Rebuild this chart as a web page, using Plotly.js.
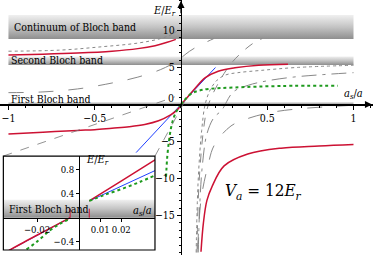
<!DOCTYPE html>
<html><head><meta charset="utf-8">
<script src="https://cdn.plot.ly/plotly-3.0.1.min.js"></script>
<style>html,body{margin:0;padding:0;background:#fff}#c{width:373px;height:255px}</style>
</head><body><div id="c"></div>
<script>
// ---- data (main panel, x = a_s/a, y = E/E_r) ----
const bandContinuum = [8.85, 12.1];
const bandSecond = [5.35, 6.5];
const bandFirst = [0, 0.35];
const bandX = [-1, 1];

const redUL_x = [-1, -0.8, -0.6, -0.4, -0.25, -0.15, -0.08, -0.03];
const redUL_y = [6.7, 6.8, 6.95, 7.2, 7.55, 7.95, 8.4, 8.8];
const redLL_x = [-1, -0.8, -0.6, -0.5, -0.4, -0.3, -0.21, -0.13, -0.06, -0.03, -0.01, 0];
const redLL_y = [-4.0, -3.75, -3.5, -3.4, -3.2, -3.0, -2.7, -2.2, -1.4, -0.9, -0.4, 0];
const redUR_x = [0, 0.04, 0.081, 0.139, 0.216, 0.313, 0.45, 0.62];
const redUR_y = [0, 1.05, 2.15, 3.6, 4.5, 4.95, 5.3, 5.45];
const redLR_x = [0.116, 0.13, 0.15, 0.18, 0.25, 0.387, 0.58, 0.8, 1.0];
const redLR_y = [-19.9, -16, -13, -11.1, -8.3, -6.7, -5.9, -5.6, -5.4];

const greenL_x = [0, -0.01, -0.03, -0.045, -0.058, -0.07, -0.08, -0.087];
const greenL_y = [0, -0.3, -1.1, -2.0, -3.2, -5.0, -7.2, -10];
const greenR_x = [0, 0.02, 0.062, 0.1, 0.158, 0.313, 0.58, 0.91];
const greenR_y = [0, 0.6, 1.49, 1.85, 2.1, 2.3, 2.5, 2.54];

const blue_x = [-0.26, 0.2];
const blue_y = [-6.5, 5.0];

const greyDotUL_x = [-1, -0.7, -0.46, -0.25, -0.12, -0.05, -0.01];
const greyDotUL_y = [7.2, 7.35, 7.8, 8.3, 8.9, 9.5, 10.2];
const greyLdU_x = [-1, -0.8, -0.6, -0.4, -0.25, -0.12, -0.05, 0, 0.05, 0.1, 0.19];
const greyLdU_y = [1.6, 1.7, 2.1, 2.9, 3.7, 4.7, 5.5, 6.3, 7.2, 7.9, 8.9];
const greyDotR_x = [0.088, 0.095, 0.105, 0.12, 0.14, 0.17, 0.21, 0.26, 0.33, 0.46, 0.67, 1.0];
const greyDotR_y = [-20, -13, -8, -3.5, 0, 2.0, 3.3, 4.0, 4.3, 4.6, 5.0, 5.3];
const greyDashR_x = [0.093, 0.1, 0.112, 0.13, 0.15, 0.18, 0.21, 0.25, 0.3, 0.36, 0.42, 0.47];
const greyDashR_y = [-20, -13, -8, -3.5, -0.7, 1.2, 2.6, 4.2, 5.8, 7.2, 8.3, 8.9];
const greyDdR_x = [0.1, 0.11, 0.125, 0.15, 0.19, 0.236, 0.303, 0.39, 0.5, 0.65, 0.8, 1.0];
const greyDdR_y = [-20, -13, -8, -4, -1.8, -0.77, 1.7, 2.6, 3.2, 3.7, 4.0, 4.3];
const greyLdR_x = [0.097, 0.116, 0.155, 0.193, 0.29, 0.4, 0.54, 0.7, 0.85, 1.0];
const greyLdR_y = [-19.5, -12.9, -8.4, -5.5, -2.9, -1.8, -1.0, -0.55, -0.3, -0.1];

// ---- data (inset) ----
const insetBand = [0, 0.3];
const insetBandX = [-0.036, 0.036];
const iRedL_x = [-0.0335, -0.025, -0.015, -0.0043];
const iRedL_y = [-0.55, -0.385, -0.2, 0];
const iBlueL_x = [-0.034, -0.0043];
const iBlueL_y = [-0.56, 0];
const iGreenL_x = [-0.025, -0.02, -0.0138, -0.009, -0.0051];
const iGreenL_y = [-0.53, -0.4, -0.21, -0.1, -0.03];
const iRedR_x = [0.0048, 0.0205, 0.0362];
const iRedR_y = [0.28, 0.625, 0.97];
const iBlueR_x = [0.0048, 0.0362];
const iBlueR_y = [0.28, 0.79];
const iGreenR_x = [0.0048, 0.012, 0.021, 0.029, 0.0362];
const iGreenR_y = [0.28, 0.38, 0.49, 0.6, 0.71];
const iJumpL_x = [-0.0043, -0.0043];
const iJumpL_y = [0, 0.3];
const iJumpR_x = [0.0048, 0.0048];
const iJumpR_y = [0, 0.28];

// ---- ticks ----
const xTicks = [-1, -0.5, 0.5, 1];
const yTicks = [-15, -10, -5, 5, 10];
const ixTicks = [-0.02, 0.01, 0.02];
const iyTicks = [-0.4, 0.4, 0.8];

const RED = '#cc1133', BLUE = '#2040ff', GREEN = '#1e9a1e', GREY = '#888';
const FONT = 'DejaVu Serif Condensed, DejaVu Serif';

function band(xs, lim, ax) {
  return {x: [xs[0], xs[1], xs[1], xs[0], xs[0]], y: [lim[0], lim[0], lim[1], lim[1], lim[0]],
    mode: 'lines', line: {width: 0}, fill: 'toself', xaxis: ax[0], yaxis: ax[1],
    fillgradient: {type: 'vertical', colorscale: [[0, '#8e8e8e'], [0.5, '#c4c4c4'], [1, '#f0f0f0']]},
    hoverinfo: 'skip', showlegend: false};
}
function ln(x, y, color, width, dash, ax, spline) {
  return {x, y, mode: 'lines', xaxis: ax ? ax[0] : 'x', yaxis: ax ? ax[1] : 'y',
    line: {color, width, dash: dash || 'solid', shape: spline === false ? 'linear' : 'spline', smoothing: 1},
    showlegend: false, hoverinfo: 'skip'};
}
const M = ['x', 'y'], I = ['x2', 'y2'];
const traces = [
  band(bandX, bandContinuum, M), band(bandX, bandSecond, M), band(bandX, bandFirst, M),
  ln(greyDotUL_x, greyDotUL_y, GREY, 1, 'dot', M),
  ln(greyLdU_x, greyLdU_y, GREY, 1, 'longdash', M),
  ln(greyDotR_x, greyDotR_y, GREY, 1, 'dot', M),
  ln(greyDashR_x, greyDashR_y, GREY, 1, 'dash', M),
  ln(greyDdR_x, greyDdR_y, GREY, 1, 'longdashdot', M),
  ln(greyLdR_x, greyLdR_y, GREY, 1, 'longdash', M),
  ln(blue_x, blue_y, BLUE, 1, 'solid', M, false),
  ln(redUL_x, redUL_y, RED, 1.5, 'solid', M),
  ln(redLL_x, redLL_y, RED, 1.5, 'solid', M),
  ln(redUR_x, redUR_y, RED, 1.5, 'solid', M),
  ln(redLR_x, redLR_y, RED, 1.5, 'solid', M),
  ln(greenL_x, greenL_y, GREEN, 2, 'dot', M),
  ln(greenR_x, greenR_y, GREEN, 2, 'dot', M),
  // inset
  band(insetBandX, insetBand, I),
  ln(iBlueL_x, iBlueL_y, BLUE, 1, 'solid', I, false),
  ln(iRedL_x, iRedL_y, RED, 1.5, 'solid', I),
  ln(iGreenL_x, iGreenL_y, GREEN, 2, 'dot', I),
  ln(iBlueR_x, iBlueR_y, BLUE, 1, 'solid', I, false),
  ln(iRedR_x, iRedR_y, RED, 1.5, 'solid', I),
  ln(iGreenR_x, iGreenR_y, GREEN, 2, 'dot', I),
  ln(iJumpL_x, iJumpL_y, RED, 1, 'dash', I, false),
  ln(iJumpR_x, iJumpR_y, RED, 1, 'dash', I, false)
];

const W = 373, H = 255;
const xr = [-1.049, 1.113], yr = [-20.34, 14.12];
const ixr = [-0.036, 0.036], iyr = [-0.54, 1.03];
const iDom = {x: [0.009, 0.4155], y: [0.0196, 0.388]};
const px = v => (v - xr[0]) / (xr[1] - xr[0]);
const py = v => (v - yr[0]) / (yr[1] - yr[0]);
const ipx = v => iDom.x[0] + (v - ixr[0]) / (ixr[1] - ixr[0]) * (iDom.x[1] - iDom.x[0]);
const ipy = v => iDom.y[0] + (v - iyr[0]) / (iyr[1] - iyr[0]) * (iDom.y[1] - iDom.y[0]);

const tf = s => ({family: FONT, size: s, color: '#000'});
const axBase = {showgrid: false, zeroline: false, showline: true, linecolor: '#000', linewidth: 1.2,
  ticks: 'outside', ticklen: 4, tickcolor: '#000', tickfont: tf(10.5), tickangle: 0};
const neg = v => v < 0 ? '\u2212' + Math.abs(v) : String(v);

const layout = {
  width: W, height: H, margin: {l: 0, r: 0, t: 0, b: 0},
  paper_bgcolor: '#fff', plot_bgcolor: '#fff', showlegend: false,
  font: tf(10.5),
  xaxis: Object.assign({}, axBase, {domain: [0, 1], range: xr, anchor: 'free', position: py(0),
    tickvals: xTicks, ticktext: xTicks.map(neg),
    minor: {dtick: 0.1, ticklen: 2, tickcolor: '#000', ticks: 'outside'}}),
  yaxis: Object.assign({}, axBase, {domain: [0, 1], range: yr, anchor: 'free', position: px(0),
    tickvals: yTicks, ticktext: yTicks.map(neg),
    minor: {dtick: 1, ticklen: 2, tickcolor: '#000', ticks: 'outside'}}),
  xaxis2: Object.assign({}, axBase, {domain: iDom.x, range: ixr, anchor: 'free', position: ipy(0),
    ticklen: 3, tickvals: ixTicks, ticktext: ixTicks.map(neg), tickfont: tf(9.5)}),
  yaxis2: Object.assign({}, axBase, {domain: iDom.y, range: iyr, anchor: 'free', position: ipx(0),
    ticklen: 3, tickvals: iyTicks, ticktext: iyTicks.map(neg), tickfont: tf(9.5)}),
  shapes: [
    {type: 'line', xref: 'paper', yref: 'paper', x0: iDom.x[0], y0: iDom.y[1], x1: px(ixr[0]), y1: py(iyr[1]),
      line: {color: '#777', width: 0.8, dash: 'dash'}},
    {type: 'line', xref: 'paper', yref: 'paper', x0: iDom.x[1], y0: iDom.y[1], x1: px(ixr[1]), y1: py(iyr[1]),
      line: {color: '#777', width: 0.8, dash: 'dash'}},
    {type: 'rect', xref: 'paper', yref: 'paper', x0: iDom.x[0], x1: iDom.x[1], y0: iDom.y[0], y1: iDom.y[1],
      line: {color: '#000', width: 1.2}, layer: 'above'}
  ],
  annotations: [
    {x: -0.98, y: 10.45, xref: 'x', yref: 'y', text: 'Continuum of Bloch band', showarrow: false, xanchor: 'left', font: tf(10.5)},
    {x: -0.995, y: 5.95, xref: 'x', yref: 'y', text: 'Second Bloch band', showarrow: false, xanchor: 'left', font: tf(10.5)},
    {x: -0.995, y: 0.75, xref: 'x', yref: 'y', text: 'First Bloch band', showarrow: false, xanchor: 'left', font: tf(10.5)},
    {x: -0.03, y: 0.85, xref: 'x', yref: 'y', text: '0', showarrow: false, xanchor: 'right', font: tf(10.5)},
    {x: -0.02, y: 12.6, xref: 'x', yref: 'y', text: '<i>E</i>/<i>E</i><sub><i>r</i></sub>', showarrow: false, xanchor: 'right', font: tf(11)},
    {x: 1.0, y: 1.45, xref: 'x', yref: 'y', text: '<i>a</i><sub><i>s</i></sub>/<i>a</i>', showarrow: false, xanchor: 'center', font: tf(11)},
    {x: 0.48, y: -11.8, xref: 'x', yref: 'y', text: '<i>V</i><sub><i>a</i></sub> = 12<i>E</i><sub><i>r</i></sub>', showarrow: false, font: tf(17)},
    // axis arrows
    {x: xr[1] - 0.005, y: 0, xref: 'x', yref: 'y', ax: -14, ay: 0, text: '', showarrow: true, arrowhead: 2, arrowsize: 1.2, arrowwidth: 1.2, arrowcolor: '#000'},
    {x: 0, y: yr[1] - 0.1, xref: 'x', yref: 'y', ax: 0, ay: 14, text: '', showarrow: true, arrowhead: 2, arrowsize: 1.2, arrowwidth: 1.2, arrowcolor: '#000'},
    // inset labels
    {x: -0.0345, y: 0.15, xref: 'x2', yref: 'y2', text: 'First Bloch band', showarrow: false, xanchor: 'left', font: tf(10.5)},
    {x: 0.0022, y: 0.97, xref: 'x2', yref: 'y2', text: '<i>E</i>/<i>E</i><sub><i>r</i></sub>', showarrow: false, xanchor: 'left', font: tf(11)},
    {x: 0.0355, y: 0.12, xref: 'x2', yref: 'y2', text: '<i>a</i><sub><i>s</i></sub>/<i>a</i>', showarrow: false, xanchor: 'right', font: tf(11)}
  ]
};
Plotly.newPlot('c', traces, layout, {staticPlot: true, displayModeBar: false});
</script></body></html>
